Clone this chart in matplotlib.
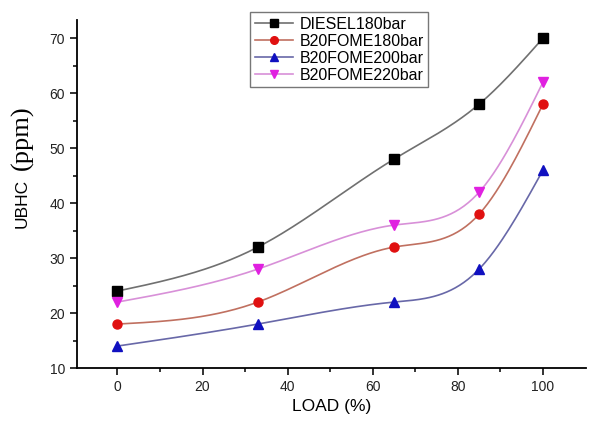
import numpy as np
import matplotlib.pyplot as plt

plt.rcParams['font.family'] = ['Liberation Sans', 'DejaVu Sans']

load = [0, 33, 65, 85, 100]
diesel180 = [24, 32, 48, 58, 70]
fome180 = [18, 22, 32, 38, 58]
fome200 = [14, 18, 22, 28, 46]
fome220 = [22, 28, 36, 42, 62]
labels = ["DIESEL180bar", "B20FOME180bar", "B20FOME200bar", "B20FOME220bar"]


def spline(x, y, n=200):
    # natural cubic spline through the points, only for drawing the line
    x = np.asarray(x, float)
    y = np.asarray(y, float)
    k = len(x)
    h = np.diff(x)
    A = np.zeros((k, k))
    b = np.zeros(k)
    A[0, 0] = A[-1, -1] = 1
    for i in range(1, k - 1):
        A[i, i - 1] = h[i - 1]
        A[i, i] = 2 * (h[i - 1] + h[i])
        A[i, i + 1] = h[i]
        b[i] = 6 * ((y[i + 1] - y[i]) / h[i] - (y[i] - y[i - 1]) / h[i - 1])
    M = np.linalg.solve(A, b)
    xs = np.linspace(x[0], x[-1], n)
    idx = np.clip(np.searchsorted(x, xs) - 1, 0, k - 2)
    x0, x1 = x[idx], x[idx + 1]
    hh = x1 - x0
    t0 = x1 - xs
    t1 = xs - x0
    ys = (M[idx] * t0 ** 3 + M[idx + 1] * t1 ** 3) / (6 * hh) \
        + (y[idx] / hh - M[idx] * hh / 6) * t0 + (y[idx + 1] / hh - M[idx + 1] * hh / 6) * t1
    return xs, ys


fig = plt.figure(figsize=(5.9, 4.25), dpi=100)
ax = fig.add_axes([0.1305, 0.134, 0.862, 0.819])

series = [diesel180, fome180, fome200, fome220]
mcolors = ["black", "#e01010", "#1010c0", "#e020e0"]
lcolors = ["#707070", "#c07060", "#6868a8", "#d890d8"]
markers = ["s", "o", "^", "v"]

for vals, mc, lc, m, lab in zip(series, mcolors, lcolors, markers, labels):
    xs, ys = spline(load, vals)
    ax.plot(xs, ys, color=lc, lw=1.2)
    ax.plot(load, vals, linestyle="none", marker=m, color=mc, ms=6.5)
    ax.plot([], [], color=lc, lw=1.2, marker=m, mfc=mc, mec=mc, ms=5.5, label=lab)

ax.set_xlim(-9.5, 110)
ax.set_ylim(10, 73.3)
ax.set_xticks([0, 20, 40, 60, 80, 100])
ax.set_xticks([10, 30, 50, 70, 90], minor=True)
ax.set_yticks([10, 20, 30, 40, 50, 60, 70])
ax.set_yticks([15, 25, 35, 45, 55, 65], minor=True)
ax.spines['top'].set_visible(False)
ax.spines['right'].set_visible(False)
ax.spines['left'].set_linewidth(1.3)
ax.spines['bottom'].set_linewidth(1.3)
ax.tick_params(which='major', length=5, width=1.3, labelsize=10, colors='#222222')
ax.tick_params(which='minor', length=3, width=1.1)

ax.set_xlabel("LOAD (%)", fontsize=12.5)
fig.text(0.037, 0.522, "UBHC", rotation=90, fontsize=12.5, ha='center', va='center')
fig.text(0.037, 0.677, "(ppm)", rotation=90, fontsize=19, family='Liberation Serif',
         ha='center', va='center')

leg = ax.legend(loc='upper left', bbox_to_anchor=(0.34, 1.023), fontsize=11.5,
                frameon=True, fancybox=False, edgecolor='#555555', borderaxespad=0,
                handlelength=2.4, borderpad=0.3, labelspacing=0.12, handletextpad=0.4)
leg.get_frame().set_linewidth(1.0)

fig.savefig("out.png", dpi=100)
